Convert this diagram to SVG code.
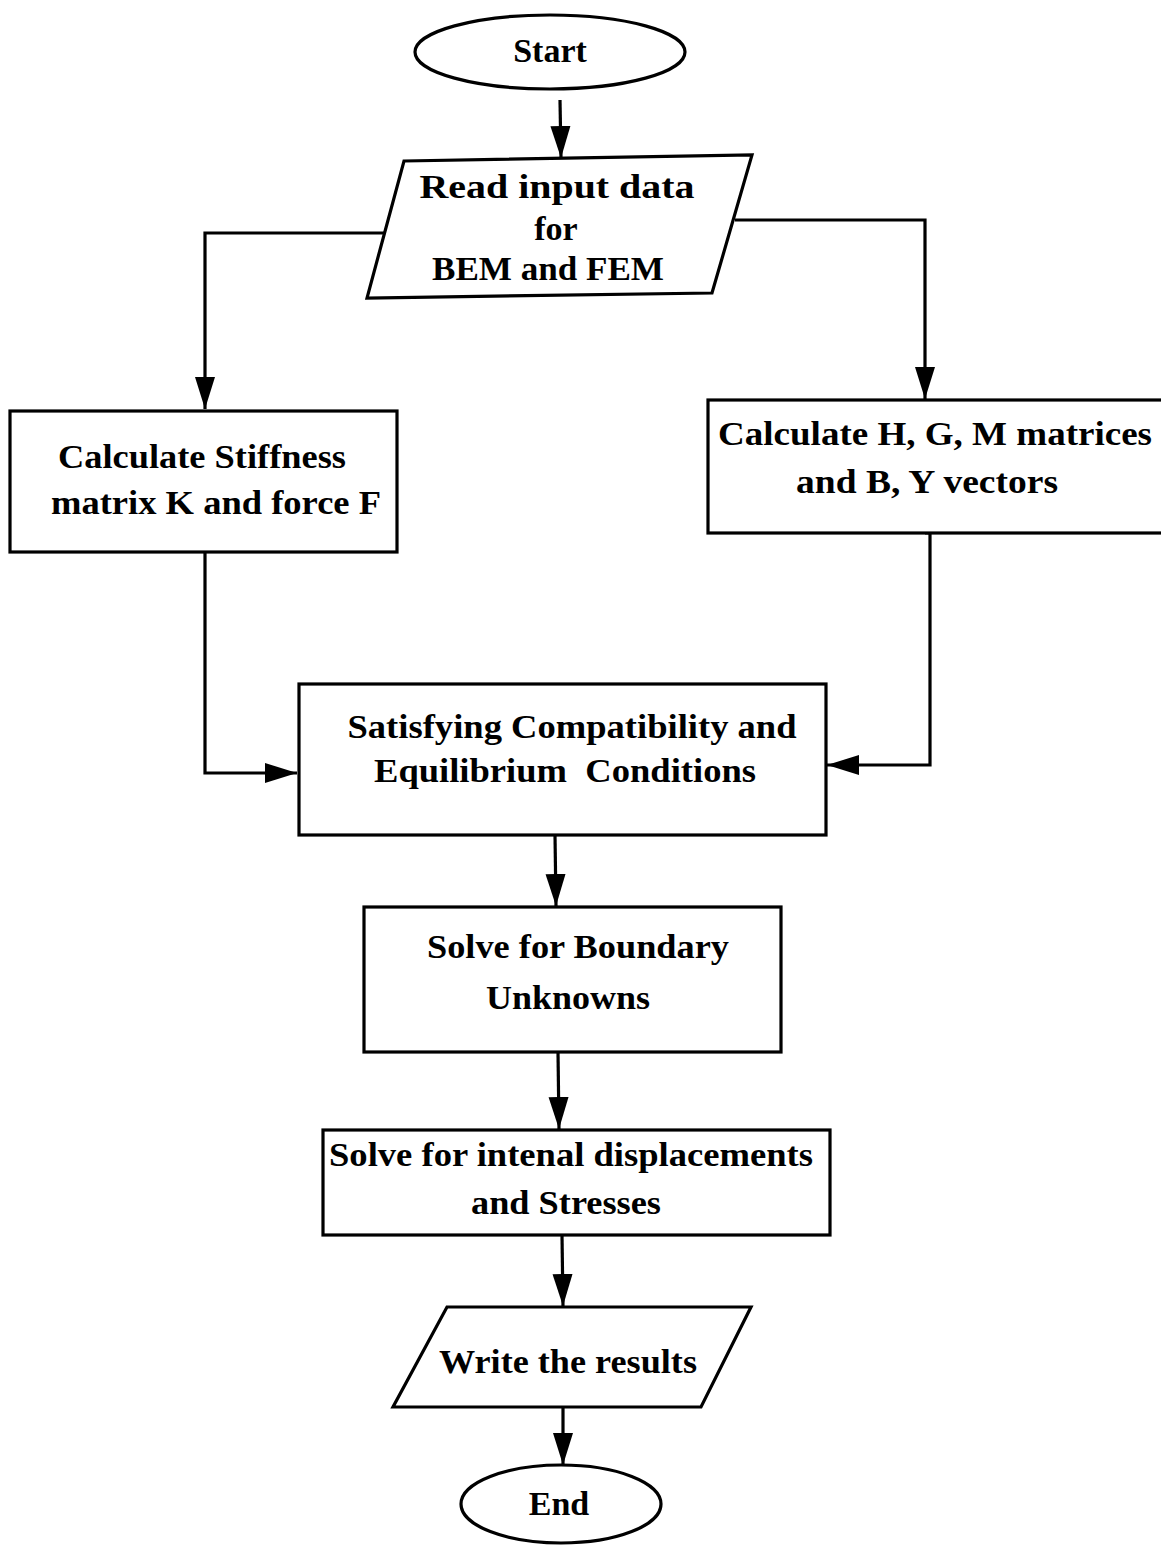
<svg xmlns="http://www.w3.org/2000/svg" width="1161" height="1552" viewBox="0 0 1161 1552">
<defs>
<marker id="ah" viewBox="0 0 32 22" refX="32" refY="11" markerWidth="32" markerHeight="22" markerUnits="userSpaceOnUse" orient="auto">
<path d="M0,1 L32,11 L0,21 Z" fill="#000"/>
</marker>
<style>
.s{fill:#fff;stroke:#000;stroke-width:3.2}
.c{fill:none;stroke:#000;stroke-width:3.2}
.t{font-family:"Liberation Serif","Times New Roman",serif;font-weight:bold;font-size:34px;fill:#000;text-anchor:middle;white-space:pre}
</style>
</defs>
<rect width="1161" height="1552" fill="#fff"/>
<g id="connectors">
<path class="c" d="M560,100 L561,158" marker-end="url(#ah)"/>
<path class="c" d="M386,233 L205,233 L205,409" marker-end="url(#ah)"/>
<path class="c" d="M735,220 L925,220 L925,399" marker-end="url(#ah)"/>
<path class="c" d="M205,552 L205,773 L297,773" marker-end="url(#ah)"/>
<path class="c" d="M925,533 L930,533 L930,765 L827,765" marker-end="url(#ah)"/>
<path class="c" d="M555,835 L556,906" marker-end="url(#ah)"/>
<path class="c" d="M558,1052 L559,1129" marker-end="url(#ah)"/>
<path class="c" d="M562,1235 L563,1306" marker-end="url(#ah)"/>
<path class="c" d="M563,1407 L563,1465" marker-end="url(#ah)"/>
</g>
<g id="start">
<ellipse class="s" cx="550" cy="52" rx="135" ry="37"/>
<text class="t" x="550" y="62">Start</text>
</g>
<g id="read">
<polygon class="s" points="404,161 752,155 712,293 367,298"/>
<text class="t" x="557" y="198" textLength="275" lengthAdjust="spacingAndGlyphs">Read input data</text>
<text class="t" x="556" y="240">for</text>
<text class="t" x="548" y="280" textLength="232" lengthAdjust="spacingAndGlyphs">BEM and FEM</text>
</g>
<g id="stiffness">
<rect class="s" x="10" y="411" width="387" height="141"/>
<text class="t" x="202" y="468" textLength="288" lengthAdjust="spacingAndGlyphs">Calculate Stiffness</text>
<text class="t" x="216" y="514" textLength="330" lengthAdjust="spacingAndGlyphs">matrix K and force F</text>
</g>
<g id="matrices">
<rect class="s" x="708" y="400" width="460" height="133"/>
<text class="t" x="935" y="445" textLength="434" lengthAdjust="spacingAndGlyphs">Calculate H, G, M matrices</text>
<text class="t" x="927" y="493" textLength="262" lengthAdjust="spacingAndGlyphs">and B, Y vectors</text>
</g>
<g id="compat">
<rect class="s" x="299" y="684" width="527" height="151"/>
<text class="t" x="572" y="738" textLength="449" lengthAdjust="spacingAndGlyphs">Satisfying Compatibility and</text>
<text class="t" x="565" y="782" textLength="382" lengthAdjust="spacingAndGlyphs">Equilibrium  Conditions</text>
</g>
<g id="boundary">
<rect class="s" x="364" y="907" width="417" height="145"/>
<text class="t" x="578" y="958" textLength="302" lengthAdjust="spacingAndGlyphs">Solve for Boundary</text>
<text class="t" x="568" y="1009" textLength="164" lengthAdjust="spacingAndGlyphs">Unknowns</text>
</g>
<g id="internal">
<rect class="s" x="323" y="1130" width="507" height="105"/>
<text class="t" x="571" y="1166" textLength="484" lengthAdjust="spacingAndGlyphs">Solve for intenal displacements</text>
<text class="t" x="566" y="1214" textLength="190" lengthAdjust="spacingAndGlyphs">and Stresses</text>
</g>
<g id="write">
<polygon class="s" points="447,1307 751,1307 701,1407 393,1407"/>
<text class="t" x="568" y="1373" textLength="258" lengthAdjust="spacingAndGlyphs">Write the results</text>
</g>
<g id="end">
<ellipse class="s" cx="561" cy="1504" rx="100" ry="39"/>
<text class="t" x="559" y="1515">End</text>
</g>
</svg>
